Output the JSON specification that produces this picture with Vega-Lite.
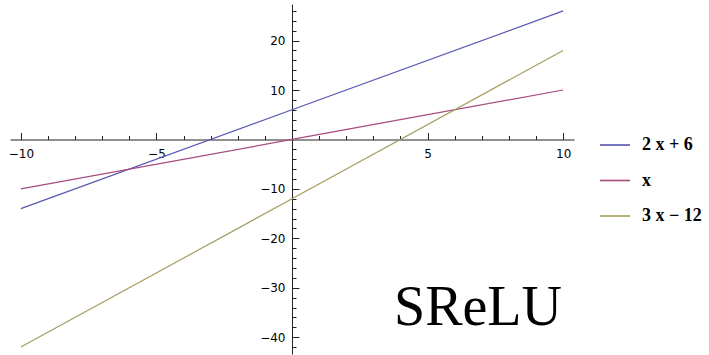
{
  "$schema": "https://vega.github.io/schema/vega-lite/v6.json",
  "width": 564,
  "height": 350,
  "autosize": {"type": "none"},
  "padding": {"left": 10, "top": 4, "right": 135, "bottom": 1},
  "background": "white",
  "config": {"view": {"stroke": null}, "axis": {"grid": false}},
  "datasets": {
    "lines": [
      {"series": "2 x + 6", "x": -10, "y": -14},
      {"series": "2 x + 6", "x": 0, "y": 6},
      {"series": "2 x + 6", "x": 10, "y": 26},
      {"series": "x", "x": -10, "y": -10},
      {"series": "x", "x": 0, "y": 0},
      {"series": "x", "x": 10, "y": 10},
      {"series": "3 x − 12", "x": -10, "y": -42},
      {"series": "3 x − 12", "x": 0, "y": -12},
      {"series": "3 x − 12", "x": 10, "y": 18}
    ],
    "label": [{"x": 6.86, "y": -37.5, "text": "SReLU"}]
  },
  "layer": [
    {
      "data": {"name": "lines"},
      "mark": {"type": "line", "strokeWidth": 1.2, "clip": false},
      "encoding": {
        "x": {
          "field": "x", "type": "quantitative",
          "scale": {"domain": [-10.4, 10.4], "nice": false, "zero": false},
          "axis": {
            "orient": "bottom", "offset": -214.5, "title": null,
            "values": [-10, -5, 5, 10], "format": "d",
            "tickSize": -7, "tickColor": "#222", "tickWidth": 1,
            "domainColor": "#222", "domainWidth": 1,
            "labelFont": "DejaVu Sans", "labelFontSize": 12, "labelColor": "black",
            "labelPadding": 16, "labelFlush": false, "labelOverlap": false
          }
        },
        "y": {
          "field": "y", "type": "quantitative",
          "scale": {"domain": [-43.4, 27.4], "nice": false, "zero": false},
          "axis": {
            "orient": "left", "offset": -282, "title": null,
            "values": [-40, -30, -20, -10, 10, 20], "format": "d",
            "tickSize": -7, "tickColor": "#222", "tickWidth": 1,
            "domainColor": "#222", "domainWidth": 1,
            "labelFont": "DejaVu Sans", "labelFontSize": 12, "labelColor": "black",
            "labelPadding": 14, "labelFlush": false, "labelOverlap": false
          }
        },
        "color": {
          "field": "series", "type": "nominal",
          "scale": {"domain": ["2 x + 6", "x", "3 x − 12"], "range": ["#5656b2", "#a84a80", "#a49d5e"]},
          "legend": {
            "orient": "none", "legendX": 589, "legendY": 125, "title": null,
            "symbolType": "stroke", "symbolSize": 900, "symbolStrokeWidth": 1.6,
            "labelFont": "Liberation Serif", "labelFontWeight": "bold", "labelFontSize": 18,
            "labelColor": "black", "labelOffset": 11, "rowPadding": 10.5, "padding": 0, "labelLimit": 200
          }
        }
      }
    },
    {
      "data": {"name": "label"},
      "mark": {"type": "text", "font": "Liberation Serif", "fontSize": 56, "align": "center", "baseline": "alphabetic", "color": "black"},
      "encoding": {
        "x": {
          "field": "x", "type": "quantitative",
          "axis": {
            "orient": "bottom", "offset": -214.5, "title": null,
            "values": [-10, -9, -8, -7, -6, -4, -3, -2, -1, 1, 2, 3, 4, 6, 7, 8, 9],
            "tickSize": -4, "tickColor": "#222", "tickWidth": 1,
            "domain": false, "labels": false
          }
        },
        "y": {
          "field": "y", "type": "quantitative",
          "axis": {
            "orient": "left", "offset": -282, "title": null,
            "values": [-42, -38, -36, -34, -32, -28, -26, -24, -22, -18, -16, -14, -12, -8, -6, -4, -2, 2, 4, 6, 8, 12, 14, 16, 18, 22, 24, 26],
            "tickSize": -4, "tickColor": "#222", "tickWidth": 1,
            "domain": false, "labels": false
          }
        },
        "text": {"field": "text"}
      }
    }
  ],
  "resolve": {"axis": {"x": "independent", "y": "independent"}}
}
